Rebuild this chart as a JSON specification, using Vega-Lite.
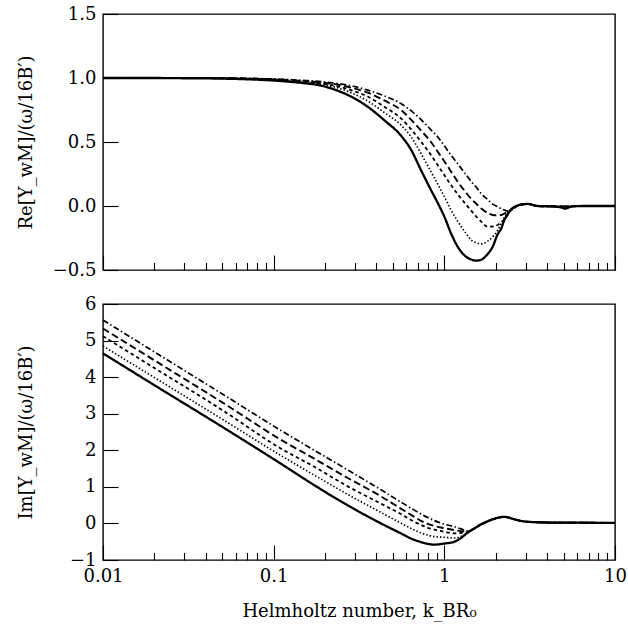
{
  "$schema": "https://vega.github.io/schema/vega-lite/v6.json",
  "padding": {"left": 16, "top": 4, "right": 6, "bottom": 4},
  "background": "#ffffff",
  "spacing": 14,
  "config": {
    "font": "DejaVu Serif",
    "view": {"stroke": "#000000", "strokeWidth": 1.4},
    "axis": {
      "grid": false,
      "domain": false,
      "tickColor": "#000000",
      "tickWidth": 1.1,
      "labelColor": "#000000",
      "titleColor": "#000000",
      "labelFont": "DejaVu Serif",
      "titleFont": "DejaVu Serif",
      "labelFontSize": 18,
      "titleFontSize": 18,
      "titleFontWeight": "normal"
    }
  },
  "datasets": {
    "re": [
      {"x": 0.01, "a": 1, "b": 1, "c": 1, "d": 1, "e": 1},
      {"x": 0.02, "a": 1, "b": 1, "c": 1, "d": 1, "e": 1},
      {"x": 0.03, "a": 0.998, "b": 1, "c": 1, "d": 1, "e": 1},
      {"x": 0.05, "a": 0.995, "b": 0.997, "c": 0.998, "d": 0.999, "e": 1},
      {"x": 0.07, "a": 0.99, "b": 0.993, "c": 0.995, "d": 0.996, "e": 0.998},
      {"x": 0.1, "a": 0.98, "b": 0.984, "c": 0.987, "d": 0.989, "e": 0.992},
      {"x": 0.145, "a": 0.962, "b": 0.968, "c": 0.973, "d": 0.978, "e": 0.982},
      {"x": 0.19, "a": 0.94, "b": 0.95, "c": 0.958, "d": 0.965, "e": 0.972},
      {"x": 0.227, "a": 0.91, "b": 0.93, "c": 0.94, "d": 0.952, "e": 0.96},
      {"x": 0.284, "a": 0.855, "b": 0.885, "c": 0.905, "d": 0.925, "e": 0.94},
      {"x": 0.356, "a": 0.775, "b": 0.82, "c": 0.855, "d": 0.885, "e": 0.905},
      {"x": 0.445, "a": 0.67, "b": 0.73, "c": 0.775, "d": 0.825, "e": 0.86},
      {"x": 0.557, "a": 0.55, "b": 0.633, "c": 0.685, "d": 0.75, "e": 0.8},
      {"x": 0.638, "a": 0.44, "b": 0.541, "c": 0.6, "d": 0.675, "e": 0.745},
      {"x": 0.73, "a": 0.28, "b": 0.41, "c": 0.503, "d": 0.59, "e": 0.675},
      {"x": 0.835, "a": 0.125, "b": 0.268, "c": 0.399, "d": 0.5, "e": 0.595},
      {"x": 0.914, "a": 0.025, "b": 0.172, "c": 0.32, "d": 0.425, "e": 0.54},
      {"x": 1.0, "a": -0.083, "b": 0.073, "c": 0.242, "d": 0.35, "e": 0.47},
      {"x": 1.094, "a": -0.213, "b": -0.031, "c": 0.164, "d": 0.27, "e": 0.398},
      {"x": 1.198, "a": -0.318, "b": -0.119, "c": 0.092, "d": 0.19, "e": 0.33},
      {"x": 1.339, "a": -0.396, "b": -0.214, "c": 0.012, "d": 0.105, "e": 0.245},
      {"x": 1.45, "a": -0.42, "b": -0.27, "c": -0.042, "d": 0.05, "e": 0.185},
      {"x": 1.533, "a": -0.427, "b": -0.285, "c": -0.08, "d": 0.02, "e": 0.15},
      {"x": 1.64, "a": -0.42, "b": -0.296, "c": -0.12, "d": -0.018, "e": 0.099},
      {"x": 1.795, "a": -0.375, "b": -0.275, "c": -0.162, "d": -0.055, "e": 0.05},
      {"x": 1.92, "a": -0.318, "b": -0.24, "c": -0.16, "d": -0.07, "e": 0.015},
      {"x": 2.054, "a": -0.22, "b": -0.19, "c": -0.148, "d": -0.072, "e": -0.005},
      {"x": 2.148, "a": -0.18, "b": -0.14, "c": -0.13, "d": -0.07, "e": -0.02},
      {"x": 2.245, "a": -0.11, "b": -0.09, "c": -0.105, "d": -0.06, "e": -0.031},
      {"x": 2.35, "a": -0.065, "b": -0.055, "c": -0.07, "d": -0.044, "e": -0.04},
      {"x": 2.45, "a": -0.03, "b": -0.03, "c": -0.035, "d": -0.03, "e": -0.035},
      {"x": 2.75, "a": 0.008, "b": 0.008, "c": 0.008, "d": 0.008, "e": 0.008},
      {"x": 3.08, "a": 0.016, "b": 0.016, "c": 0.016, "d": 0.016, "e": 0.016},
      {"x": 3.52, "a": 0.0, "b": 0.0, "c": 0.0, "d": 0.0, "e": 0.0},
      {"x": 4.2, "a": -0.003, "b": -0.003, "c": -0.003, "d": -0.003, "e": -0.003},
      {"x": 4.8, "a": -0.01, "b": -0.003, "c": -0.003, "d": -0.003, "e": -0.003},
      {"x": 5.1, "a": -0.02, "b": -0.004, "c": -0.004, "d": -0.004, "e": -0.004},
      {"x": 5.5, "a": -0.006, "b": -0.002, "c": -0.002, "d": -0.002, "e": -0.002},
      {"x": 6.5, "a": 0, "b": 0, "c": 0, "d": 0, "e": 0},
      {"x": 8, "a": 0, "b": 0, "c": 0, "d": 0, "e": 0},
      {"x": 10, "a": 0, "b": 0, "c": 0, "d": 0, "e": 0}
    ],
    "im": [
      {"x": 0.01, "a": 4.65, "b": 4.85, "c": 5.12, "d": 5.33, "e": 5.56},
      {"x": 0.02, "a": 3.78, "b": 3.99, "c": 4.25, "d": 4.46, "e": 4.69},
      {"x": 0.05, "a": 2.64, "b": 2.85, "c": 3.1, "d": 3.31, "e": 3.54},
      {"x": 0.11, "a": 1.636, "b": 1.86, "c": 2.05, "d": 2.29, "e": 2.545},
      {"x": 0.173, "a": 1.045, "b": 1.32, "c": 1.55, "d": 1.77, "e": 2.0},
      {"x": 0.27, "a": 0.5, "b": 0.8, "c": 1.02, "d": 1.25, "e": 1.47},
      {"x": 0.4256, "a": 0.0, "b": 0.3, "c": 0.54, "d": 0.74, "e": 0.92},
      {"x": 0.55, "a": -0.26, "b": 0.02, "c": 0.27, "d": 0.42, "e": 0.6},
      {"x": 0.667, "a": -0.45, "b": -0.18, "c": 0.045, "d": 0.18, "e": 0.364},
      {"x": 0.73, "a": -0.51, "b": -0.26, "c": -0.04, "d": 0.07, "e": 0.26},
      {"x": 0.8, "a": -0.56, "b": -0.32, "c": -0.12, "d": -0.01, "e": 0.16},
      {"x": 0.873, "a": -0.58, "b": -0.36, "c": -0.17, "d": -0.07, "e": 0.08},
      {"x": 1.0, "a": -0.55, "b": -0.38, "c": -0.23, "d": -0.13, "e": -0.02},
      {"x": 1.144, "a": -0.5, "b": -0.4, "c": -0.27, "d": -0.18, "e": -0.09},
      {"x": 1.25, "a": -0.4, "b": -0.36, "c": -0.26, "d": -0.21, "e": -0.15},
      {"x": 1.38, "a": -0.24, "b": -0.25, "c": -0.23, "d": -0.22, "e": -0.21},
      {"x": 1.5, "a": -0.136, "b": -0.136, "c": -0.136, "d": -0.136, "e": -0.136},
      {"x": 1.65, "a": -0.02, "b": -0.02, "c": -0.02, "d": -0.02, "e": -0.02},
      {"x": 1.8, "a": 0.06, "b": 0.06, "c": 0.06, "d": 0.06, "e": 0.06},
      {"x": 2.0, "a": 0.14, "b": 0.14, "c": 0.14, "d": 0.14, "e": 0.14},
      {"x": 2.25, "a": 0.18, "b": 0.18, "c": 0.18, "d": 0.18, "e": 0.18},
      {"x": 2.5, "a": 0.13, "b": 0.13, "c": 0.13, "d": 0.13, "e": 0.13},
      {"x": 2.8, "a": 0.07, "b": 0.07, "c": 0.07, "d": 0.07, "e": 0.07},
      {"x": 3.2, "a": 0.04, "b": 0.04, "c": 0.04, "d": 0.04, "e": 0.04},
      {"x": 4, "a": 0.025, "b": 0.025, "c": 0.025, "d": 0.025, "e": 0.025},
      {"x": 6, "a": 0.02, "b": 0.02, "c": 0.02, "d": 0.02, "e": 0.02},
      {"x": 10, "a": 0.015, "b": 0.015, "c": 0.015, "d": 0.015, "e": 0.015}
    ]
  },
  "vconcat": [
    {
      "width": 512,
      "height": 256,
      "data": {"name": "re"},
      "transform": [{"fold": ["a", "b", "c", "d", "e"], "as": ["s", "y"]}],
      "mark": {"type": "line", "interpolate": "monotone", "color": "#000000"},
      "encoding": {
        "x": {
          "field": "x", "type": "quantitative",
          "scale": {"type": "log", "domain": [0.01, 10], "nice": false},
          "axis": {
            "values": [0.01,0.02,0.03,0.04,0.05,0.06,0.07,0.08,0.09,0.1,0.2,0.3,0.4,0.5,0.6,0.7,0.8,0.9,1,2,3,4,5,6,7,8,9,10],
            "labels": false,
            "title": null,
            "tickSize": {"condition": {"test": "datum.value == 0.01 || datum.value == 0.1 || datum.value == 1 || datum.value == 10", "value": -15}, "value": -7.5}
          }
        },
        "y": {
          "field": "y", "type": "quantitative",
          "scale": {"domain": [-0.5, 1.5], "nice": false, "zero": false},
          "axis": {
            "values": [-0.5, 0, 0.5, 1, 1.5],
            "format": ".1f",
            "tickSize": -15,
            "labelPadding": 22,
            "title": "Re[Y_wM]/(ω/16B′)",
            "titleX": -68
          }
        },
        "strokeDash": {
          "field": "s", "type": "nominal",
          "scale": {"domain": ["a", "b", "c", "d", "e"], "range": [[1, 0], [1.5, 2], [3.5, 3], [7, 3.5], [6, 2.5, 1.5, 2.5]]},
          "legend": null
        },
        "strokeWidth": {
          "field": "s", "type": "ordinal",
          "scale": {"type": "ordinal", "domain": ["a", "b", "c", "d", "e"], "range": [2.3, 1.6, 1.8, 1.9, 1.7]},
          "legend": null
        }
      }
    },
    {
      "width": 512,
      "height": 256,
      "data": {"name": "im"},
      "transform": [{"fold": ["a", "b", "c", "d", "e"], "as": ["s", "y"]}],
      "mark": {"type": "line", "interpolate": "monotone", "color": "#000000"},
      "encoding": {
        "x": {
          "field": "x", "type": "quantitative",
          "scale": {"type": "log", "domain": [0.01, 10], "nice": false},
          "axis": {
            "values": [0.01,0.02,0.03,0.04,0.05,0.06,0.07,0.08,0.09,0.1,0.2,0.3,0.4,0.5,0.6,0.7,0.8,0.9,1,2,3,4,5,6,7,8,9,10],
            "labelExpr": "datum.value == 0.01 ? '0.01' : datum.value == 0.1 ? '0.1' : datum.value == 1 ? '1' : datum.value == 10 ? '10' : ''",
            "labelFlush": false,
            "labelOverlap": false,
            "labelPadding": 22,
            "titlePadding": 10,
            "title": "Helmholtz number, k_BR₀",
            "tickSize": {"condition": {"test": "datum.value == 0.01 || datum.value == 0.1 || datum.value == 1 || datum.value == 10", "value": -15}, "value": -7.5}
          }
        },
        "y": {
          "field": "y", "type": "quantitative",
          "scale": {"domain": [-1, 6], "nice": false, "zero": false},
          "axis": {
            "values": [-1, 0, 1, 2, 3, 4, 5, 6],
            "format": "d",
            "tickSize": -15,
            "labelPadding": 22,
            "title": "Im[Y_wM]/(ω/16B′)",
            "titleX": -68
          }
        },
        "strokeDash": {
          "field": "s", "type": "nominal",
          "scale": {"domain": ["a", "b", "c", "d", "e"], "range": [[1, 0], [1.5, 2], [3.5, 3], [7, 3.5], [6, 2.5, 1.5, 2.5]]},
          "legend": null
        },
        "strokeWidth": {
          "field": "s", "type": "ordinal",
          "scale": {"type": "ordinal", "domain": ["a", "b", "c", "d", "e"], "range": [2.3, 1.6, 1.8, 1.9, 1.7]},
          "legend": null
        }
      }
    }
  ]
}
